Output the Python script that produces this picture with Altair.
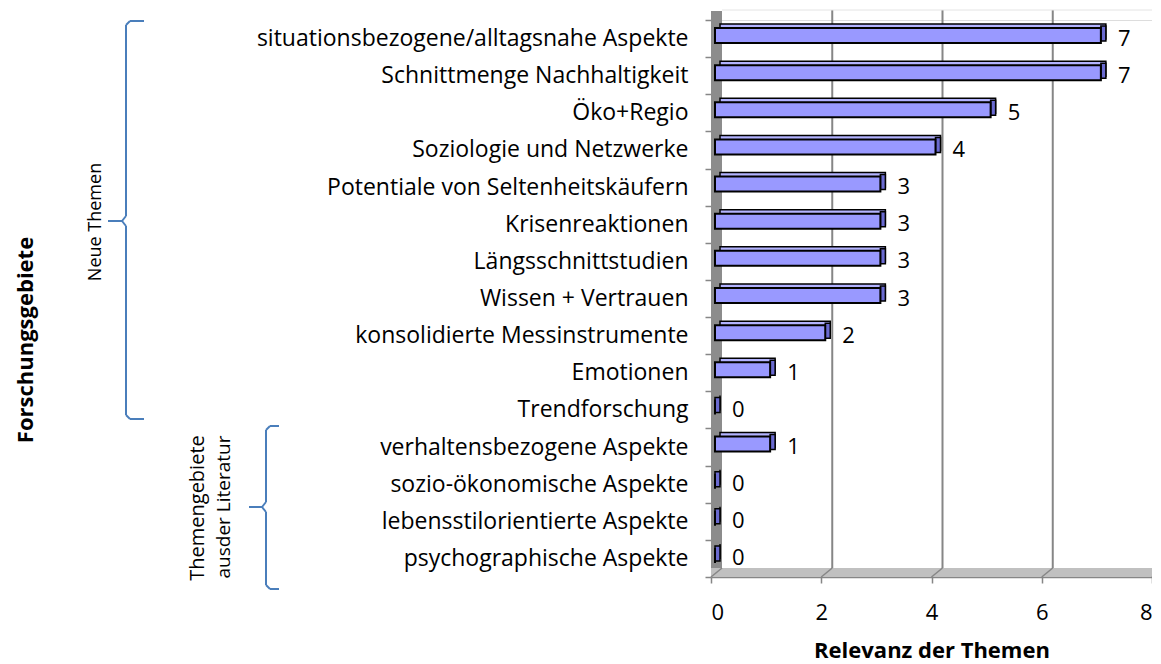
import altair as alt
import pandas as pd

categories = [
    "situationsbezogene/alltagsnahe Aspekte",
    "Schnittmenge Nachhaltigkeit",
    "Öko+Regio",
    "Soziologie und Netzwerke",
    "Potentiale von Seltenheitskäufern",
    "Krisenreaktionen",
    "Längsschnittstudien",
    "Wissen + Vertrauen",
    "konsolidierte Messinstrumente\u00a0\u00a0",
    "Emotionen",
    "Trendforschung",
    "verhaltensbezogene Aspekte",
    "sozio-ökonomische Aspekte",
    "lebensstilorientierte Aspekte",
    "psychographische Aspekte",
]
values = [7, 7, 5, 4, 3, 3, 3, 3, 2, 1, 0, 1, 0, 0, 0]
x_ticks = [0, 2, 4, 6, 8]
grid_ticks = [2, 4, 6, 8]

x_title = "Relevanz der Themen"
y_title = "Forschungsgebiete"
group1 = "Neue Themen"
group2_lines = ["Themengebiete", "ausder Literatur"]

FONT = "Open Sans"
FS = 22
LFS = 23
W, H = 441, 557
BAR_FILL = "#9999ff"
TOP_FILL = "#b3b3ff"
SIDE_FILL = "#6a6ad0"
BRACE = "#4a7ebb"

df = pd.DataFrame({"Thema": categories, "Relevanz": values})
grid_df = pd.DataFrame({"Relevanz": grid_ticks})
tick_df = pd.DataFrame({"Relevanz": x_ticks})
one = pd.DataFrame({"a": [0]})

x_scale = alt.Scale(domain=[0, 8], nice=False, zero=True)
y_scale = alt.Scale(paddingInner=0.0, paddingOuter=0.0)

y_axis = alt.Axis(
    title=None, labelFont=FONT, labelFontSize=LFS, labelColor="#000000",
    labelPadding=17, tickSize=6, tickColor="#868686", tickWidth=1.5,
    tickBand="extent", domain=False, labelLimit=600,
)
x_axis = alt.Axis(
    title=x_title, values=x_ticks, labelFont=FONT, labelFontSize=FS,
    labelColor="#000000", labelPadding=19, tickSize=6, tickColor="#868686",
    tickWidth=1.5, domainColor="#868686", domainWidth=1.5, grid=False,
    titleFont=FONT, titleFontSize=22, titleFontWeight="bold", titleColor="#000000",
    titlePadding=17,
)


def X(field="Relevanz"):
    return alt.X(f"{field}:Q", scale=x_scale, axis=x_axis, title=x_title)


def Yc():
    return alt.Y("Thema:N", sort=categories, scale=y_scale, axis=y_axis, title=None)


# 3D wall & floor
wall = alt.Chart(one).mark_rect(color="#8c8c8c").encode(
    x=alt.value(0), x2=alt.value(11), y=alt.value(-9), y2=alt.value(557)
)
floor = alt.Chart(one).mark_rect(color="#c0c0c0").encode(
    x=alt.value(0), x2=alt.value(452), y=alt.value(548), y2=alt.value(557)
)
floor_diag = alt.Chart(tick_df).mark_rule(
    color="#868686", strokeWidth=1.5, x2Offset=11
).encode(
    x=X(), x2="Relevanz:Q", y=alt.value(557), y2=alt.value(548),
)
grid = alt.Chart(grid_df).mark_rule(color="#868686", strokeWidth=2, xOffset=11).encode(
    x=X(), y=alt.value(-10), y2=alt.value(548)
)
top_edge = alt.Chart(one).mark_rule(color="#e4e4e4", strokeWidth=1).encode(
    x=alt.value(11), x2=alt.value(452), y=alt.value(-10)
)

# bars (pseudo 3D)
back = alt.Chart(df).mark_bar(
    size=15, fill=TOP_FILL, stroke="#000000", strokeWidth=1.5, xOffset=9, yOffset=-7
).encode(x=X(), y=Yc())
side = alt.Chart(df).mark_tick(
    orient="vertical", thickness=5, size=15, fill=SIDE_FILL, color=SIDE_FILL,
    stroke="#000000", strokeWidth=1.5, opacity=1, xOffset=6.5, yOffset=-5
).encode(x=X(), y=Yc())
front = alt.Chart(df).mark_bar(
    size=15, fill=BAR_FILL, stroke="#000000", strokeWidth=2, xOffset=4, yOffset=-3
).encode(x=X(), y=Yc())
labels = alt.Chart(df).mark_text(
    align="left", baseline="middle", dx=21, dy=0, font=FONT, fontSize=FS, color="#000000"
).encode(x=X(), y=Yc(), text="Relevanz:Q")


# braces
def seg(x1, y1, x2, y2):
    return alt.Chart(one).mark_rule(color=BRACE, strokeWidth=2).encode(
        x=alt.value(x1), y=alt.value(y1), x2=alt.value(x2), y2=alt.value(y2)
    )


ox, oy = 711, 20
b1 = [
    seg(144 - ox, 21 - oy, 130 - ox, 21 - oy),
    seg(130 - ox, 21 - oy, 126 - ox, 25 - oy),
    seg(126 - ox, 25 - oy, 126 - ox, 216 - oy),
    seg(126 - ox, 216 - oy, 122 - ox, 221 - oy),
    seg(122 - ox, 221 - oy, 108 - ox, 221 - oy),
    seg(122 - ox, 221 - oy, 126 - ox, 226 - oy),
    seg(126 - ox, 226 - oy, 126 - ox, 415 - oy),
    seg(126 - ox, 415 - oy, 130 - ox, 419 - oy),
    seg(130 - ox, 419 - oy, 144 - ox, 419 - oy),
]
b2 = [
    seg(279 - ox, 426 - oy, 270 - ox, 426 - oy),
    seg(270 - ox, 426 - oy, 266 - ox, 430 - oy),
    seg(266 - ox, 430 - oy, 266 - ox, 502 - oy),
    seg(266 - ox, 502 - oy, 262 - ox, 507 - oy),
    seg(262 - ox, 507 - oy, 249 - ox, 507 - oy),
    seg(262 - ox, 507 - oy, 266 - ox, 512 - oy),
    seg(266 - ox, 512 - oy, 266 - ox, 585 - oy),
    seg(266 - ox, 585 - oy, 270 - ox, 589 - oy),
    seg(270 - ox, 589 - oy, 279 - ox, 589 - oy),
]


def vtext(txt, bx, cy, bold=False, size=FS):
    # bx: page x of the text baseline (text reads bottom-to-top)
    return alt.Chart(one).mark_text(
        angle=270, align="center", baseline="alphabetic", font=FONT, fontSize=size,
        fontWeight="bold" if bold else "normal", color="#000000", text=txt
    ).encode(x=alt.value(bx - ox), y=alt.value(cy - oy))


texts = [
    vtext(group1, 101, 222, size=18),
    vtext(group2_lines[0], 204, 508, size=20),
    vtext(group2_lines[1], 230, 507, size=19),
    vtext(y_title, 33, 340, bold=True, size=22),
]

chart = alt.layer(
    wall, floor, floor_diag, grid, top_edge, back, side, front, labels,
    *b1, *b2, *texts
).properties(
    width=W, height=H,
    autosize=alt.AutoSizeParams(type="none"),
    padding={"left": 703, "top": 12, "right": 0, "bottom": 85},
).configure_view(stroke=None).configure(background="#ffffff")

chart.save("out.html", embed_options={"renderer": "svg", "actions": False})
